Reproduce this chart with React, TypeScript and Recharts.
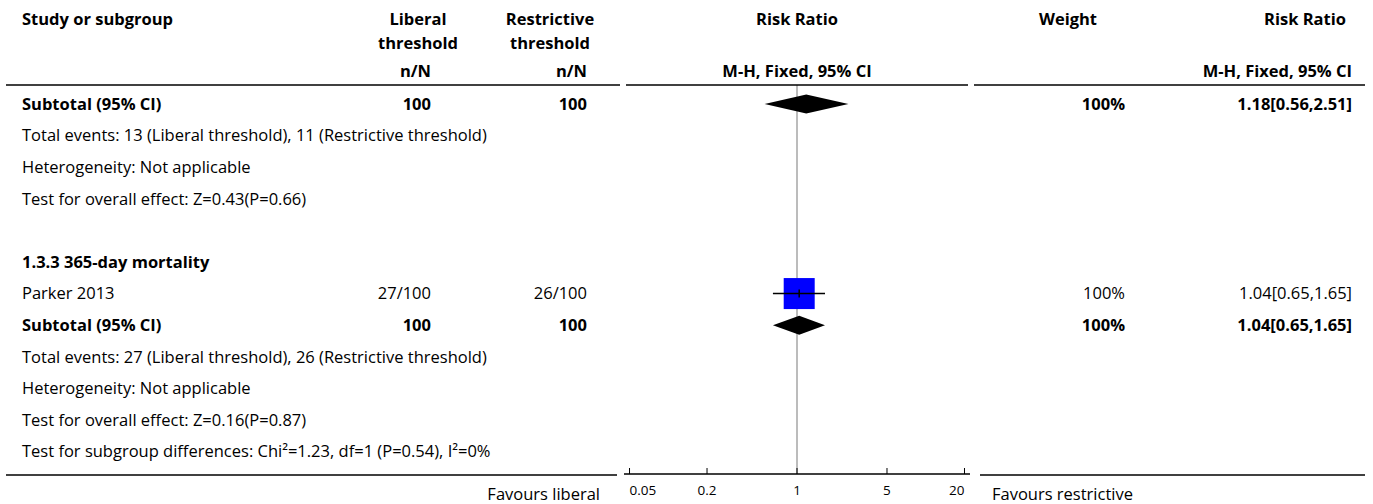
import React from "react";
import { ComposedChart, XAxis, YAxis, Scatter, ReferenceLine } from "recharts";

const FONT = "'Open Sans', 'Noto Sans', sans-serif";
const FS = 16.5;

// table rows, top to bottom
const rowLabels = [
  "Subtotal (95% CI)",
  "Total events: 13 (Liberal threshold), 11 (Restrictive threshold)",
  "Heterogeneity: Not applicable",
  "Test for overall effect: Z=0.43(P=0.66)",
  "",
  "1.3.3 365-day mortality",
  "Parker 2013",
  "Subtotal (95% CI)",
  "Total events: 27 (Liberal threshold), 26 (Restrictive threshold)",
  "Heterogeneity: Not applicable",
  "Test for overall effect: Z=0.16(P=0.87)",
  "Test for subgroup differences: Chi\u00b2=1.23, df=1 (P=0.54), I\u00b2=0%",
];
const boldRows = [0, 5, 7];
const liberalNN = ["100", "", "", "", "", "", "27/100", "100", "", "", "", ""];
const restrictiveNN = ["100", "", "", "", "", "", "26/100", "100", "", "", "", ""];
const weights = ["100%", "", "", "", "", "", "100%", "100%", "", "", "", ""];
const rrLabels = ["1.18[0.56,2.51]", "", "", "", "", "", "1.04[0.65,1.65]", "1.04[0.65,1.65]", "", "", "", ""];

// single studies
const studyRows = [6];
const studyRR = [1.04];
const studyLo = [0.65];
const studyHi = [1.65];

// pooled subtotals (diamonds)
const subtotalRows = [0, 7];
const subtotalRR = [1.18, 1.04];
const subtotalLo = [0.56, 0.65];
const subtotalHi = [2.51, 1.65];

const axisTicks = [0.05, 0.2, 1, 5, 20];

const rowIndex = rowLabels.map((_, i) => i);

const RowTick = (props: any) => {
  const { y, payload } = props;
  const i = Math.round(payload.value as number);
  const bold = boldRows.includes(i) ? "bold" : "normal";
  const common = { y, dy: "0.35em", fontFamily: FONT, fontSize: FS, fill: "#000", fontWeight: bold };
  return (
    <g>
      <text x={22} textAnchor="start" {...common}>{rowLabels[i]}</text>
      <text x={431} textAnchor="end" {...common}>{liberalNN[i]}</text>
      <text x={587} textAnchor="end" {...common}>{restrictiveNN[i]}</text>
      <text x={1125} textAnchor="end" {...common}>{weights[i]}</text>
      <text x={1352} textAnchor="end" {...common}>{rrLabels[i]}</text>
    </g>
  );
};

const AxisTick = (props: any) => {
  const { x, y, payload } = props;
  const v = payload.value;
  // end labels sit inside the axis span
  let anchor: "start" | "middle" | "end" = "middle";
  if (v === axisTicks[0]) anchor = "start";
  if (v === axisTicks[axisTicks.length - 1]) anchor = "end";
  return (
    <g>
      <line x1={x} x2={x} y1={y - 6} y2={y} stroke="#000" strokeWidth={1} />
      <text x={x} y={y + 21} textAnchor={anchor} fontFamily={FONT} fontSize={13.5} fill="#000">
        {v}
      </text>
    </g>
  );
};

const renderStudy = (p: any) => {
  const pts = p.points;
  if (!pts || pts.length < 3) return null;
  const [lo, mid, hi] = pts;
  const s = 15.5;
  return (
    <g>
      <rect x={mid.x - s} y={mid.y - s} width={2 * s} height={2 * s} fill="#0000ff" />
      <line x1={lo.x} x2={hi.x} y1={mid.y} y2={mid.y} stroke="#000" strokeWidth={1.5} />
      <line x1={mid.x} x2={mid.x} y1={mid.y - 4} y2={mid.y + 4} stroke="#000" strokeWidth={1.5} />
    </g>
  );
};

const renderDiamond = (p: any) => {
  const pts = p.points;
  if (!pts || pts.length < 3) return null;
  const [lo, mid, hi] = pts;
  const h = 9.5;
  const d = `M${lo.x},${mid.y} L${mid.x},${mid.y - h} L${hi.x},${mid.y} L${mid.x},${mid.y + h} Z`;
  return <path d={d} fill="#000" stroke="none" />;
};

const noDot = () => <g />;

const W = 1373;
const H = 504;

const headerText = (x: number, y: number, s: string, anchor: "start" | "middle" | "end") => (
  <text x={x} y={y} dy="0.35em" textAnchor={anchor} fontFamily={FONT} fontSize={FS} fontWeight="bold" fill="#000">
    {s}
  </text>
);

export default function App() {
  return (
    <div style={{ position: "relative", width: W, height: H, background: "#fff" }}>
      <style>{"body{margin:0}"}</style>
      <ComposedChart width={W} height={H} margin={{ top: 85, right: 403, bottom: 0, left: 623 }}>
        <XAxis
          type="number"
          dataKey="x"
          scale="log"
          domain={[0.0453, 22.07]}
          ticks={axisTicks}
          allowDataOverflow
          height={30}
          tickSize={0}
          tickMargin={0}
          interval={0}
          axisLine={{ stroke: "#000", strokeWidth: 1.5 }}
          tickLine={false}
          tick={<AxisTick />}
        />
        <YAxis
          type="number"
          dataKey="y"
          domain={[-0.6, 11.71]}
          reversed
          allowDataOverflow
          ticks={rowIndex}
          interval={0}
          width={1}
          axisLine={false}
          tickLine={false}
          tick={<RowTick />}
        />
        <ReferenceLine x={1} stroke="#a6a6a6" strokeWidth={1.5} />
        {studyRows.map((r, i) => (
          <Scatter
            key={"s" + i}
            data={[
              { x: studyLo[i], y: r },
              { x: studyRR[i], y: r },
              { x: studyHi[i], y: r },
            ]}
            shape={noDot}
            line={renderStudy}
            isAnimationActive={false}
          />
        ))}
        {subtotalRows.map((r, i) => (
          <Scatter
            key={"d" + i}
            data={[
              { x: subtotalLo[i], y: r },
              { x: subtotalRR[i], y: r },
              { x: subtotalHi[i], y: r },
            ]}
            shape={noDot}
            line={renderDiamond}
            isAnimationActive={false}
          />
        ))}
      </ComposedChart>
      <svg
        width={W}
        height={H}
        style={{ position: "absolute", left: 0, top: 0, pointerEvents: "none" }}
      >
        {headerText(22, 19, "Study or subgroup", "start")}
        {headerText(418, 19, "Liberal", "middle")}
        {headerText(418, 43, "threshold", "middle")}
        {headerText(550, 19, "Restrictive", "middle")}
        {headerText(550, 43, "threshold", "middle")}
        {headerText(797, 19, "Risk Ratio", "middle")}
        {headerText(1068, 19, "Weight", "middle")}
        {headerText(1305, 19, "Risk Ratio", "middle")}
        {headerText(431, 71, "n/N", "end")}
        {headerText(587, 71, "n/N", "end")}
        {headerText(797, 71, "M-H, Fixed, 95% CI", "middle")}
        {headerText(1352, 71, "M-H, Fixed, 95% CI", "end")}
        <line x1={6} x2={620} y1={85} y2={85} stroke="#000" strokeWidth={1.5} />
        <line x1={626} x2={968} y1={85} y2={85} stroke="#000" strokeWidth={1.5} />
        <line x1={974} x2={1365} y1={85} y2={85} stroke="#000" strokeWidth={1.5} />
        <line x1={6} x2={617} y1={475} y2={475} stroke="#000" strokeWidth={1.5} />
        <line x1={980} x2={1365} y1={475} y2={475} stroke="#000" strokeWidth={1.5} />
        <text x={600} y={500} textAnchor="end" fontFamily={FONT} fontSize={FS} fill="#000">
          Favours liberal
        </text>
        <text x={992} y={500} textAnchor="start" fontFamily={FONT} fontSize={FS} fill="#000">
          Favours restrictive
        </text>
      </svg>
    </div>
  );
}
